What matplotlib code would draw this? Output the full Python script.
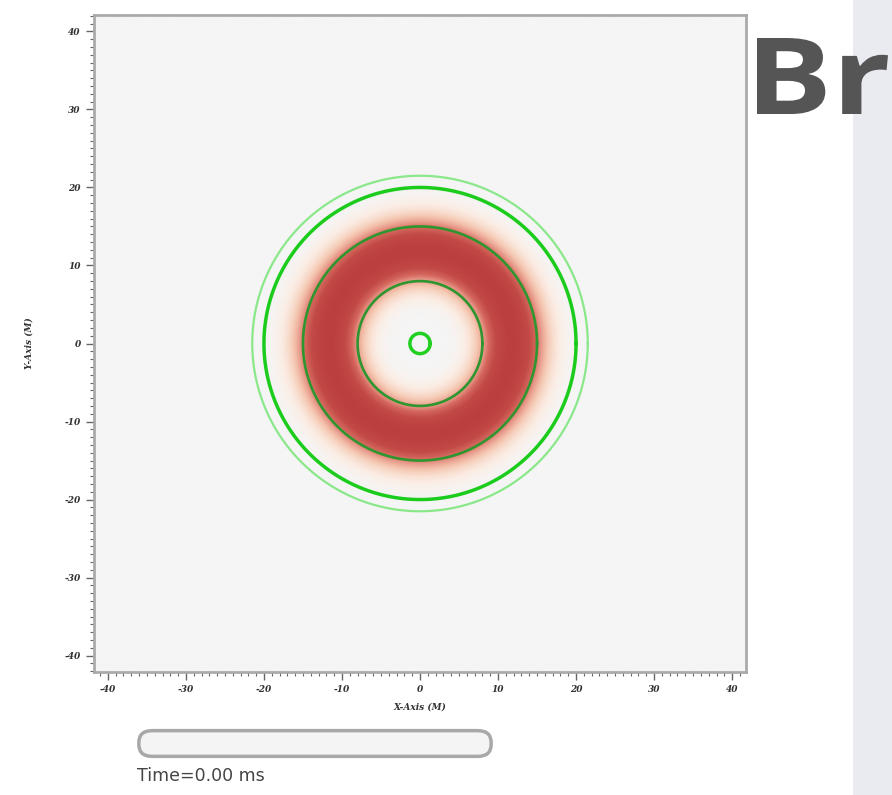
import numpy as np
import matplotlib
matplotlib.use("Agg")
import matplotlib.pyplot as plt
from matplotlib.colors import LinearSegmentedColormap
from matplotlib.patches import FancyBboxPatch, Rectangle, PathPatch
from matplotlib.textpath import TextPath
from matplotlib.font_manager import FontProperties
from matplotlib.transforms import Affine2D, IdentityTransform
from matplotlib.ticker import MultipleLocator

# field: annulus of Br, peak radius and width (M)
ring_center = 11.8
ring_width = 3.6
# contour circles (radius in M) with colours and widths
contour_radii = [1.3, 8.0, 15.0, 20.0, 21.5]
contour_colors = ["#22d022", "#2f962f", "#2f962f", "#1ccc1c", "#8ae88a"]
contour_widths = [2.5, 1.9, 1.9, 2.5, 1.6]
ticks = [-40, -30, -20, -10, 0, 10, 20, 30, 40]
time_label = "Time=0.00 ms"
title = "Br"

fig = plt.figure(figsize=(8.92, 7.95), dpi=100)
fig.patch.set_facecolor("white")

# light side band on the right
fig.patches.append(Rectangle((853 / 892, 0), 39 / 892, 1, transform=fig.transFigure,
                             facecolor="#e9ebf0", edgecolor="none", zorder=0))

ax = fig.add_axes([92 / 892, 1 - 672 / 795, 656 / 892, 657 / 795])
ax.set_facecolor("#f5f5f5")

x = np.linspace(-42, 42, 600)
X, Y = np.meshgrid(x, x)
R = np.hypot(X, Y)
F = np.exp(-((R - ring_center) / ring_width) ** 2)

cmap = LinearSegmentedColormap.from_list(
    "br", [(0.0, "#f5f5f5"), (0.05, "#fbeee6"), (0.2, "#f5c9b3"),
           (0.35, "#e8998a"), (0.5, "#d4665c"), (0.7, "#c24a46"), (1.0, "#bb3f3f")])
ax.imshow(F, extent=(-42, 42, -42, 42), origin="lower", cmap=cmap,
          vmin=0, vmax=1, interpolation="bilinear", zorder=1)

t = np.linspace(0, 2 * np.pi, 400)
for r, c, lw in zip(contour_radii, contour_colors, contour_widths):
    ax.plot(r * np.cos(t), r * np.sin(t), color=c, lw=lw, zorder=3)

ax.set_xlim(-41.8, 41.8)
ax.set_ylim(-42.1, 42.1)
ax.set_xticks(ticks)
ax.set_yticks(ticks)
ax.xaxis.set_minor_locator(MultipleLocator(1))
ax.yaxis.set_minor_locator(MultipleLocator(1))
ax.tick_params(which="major", length=6, width=1, color="#666666", direction="out")
ax.tick_params(which="minor", length=3, width=0.8, color="#666666", direction="out")
tick_font = dict(family="DejaVu Serif", style="italic", weight="bold", size=6.5)
ax.set_xticklabels([str(v) for v in ticks], **tick_font, color="#333333")
ax.set_yticklabels([str(v) for v in ticks], **tick_font, color="#333333")
for s in ax.spines.values():
    s.set_color("#aaaaaa")
    s.set_linewidth(2)

ax.set_xlabel("X-Axis (M)", family="DejaVu Serif", style="italic", weight="bold",
              size=6.5, color="#333333", labelpad=6)
ax.set_ylabel("Y-Axis (M)", family="DejaVu Serif", style="italic", weight="bold",
              size=6.5, color="#333333", labelpad=22)

# time slider
fig.patches.append(FancyBboxPatch((146 / 892, 1 - 750 / 795), 338 / 892, 13 / 795,
                                  boxstyle="round,pad=0.008,rounding_size=0.015",
                                  transform=fig.transFigure, facecolor="#f4f4f4",
                                  edgecolor="#a8a8a8", linewidth=2.5))
fig.text(137 / 892, 1 - 776 / 795, time_label, family="DejaVu Sans", size=12.5,
         color="#444444", va="center", ha="left")

# big heavy title, stretched to the box it fills in the picture (pixels)
tp = TextPath((0, 0), title, size=100, prop=FontProperties(family="Open Sans", weight="bold"))
ext = tp.get_extents()
box_x0, box_x1, box_top, box_bottom = 757, 888, 38, 114
sx = (box_x1 - box_x0) / ext.width
sy = (box_bottom - box_top) / ext.height
tr = Affine2D().translate(-ext.x0, -ext.y0).scale(sx, sy).translate(box_x0, 795 - box_bottom)
fig.patches.append(PathPatch(tr.transform_path(tp), transform=IdentityTransform(),
                             facecolor="#555555", edgecolor="none", zorder=5))

fig.savefig("out.png", dpi=100)
